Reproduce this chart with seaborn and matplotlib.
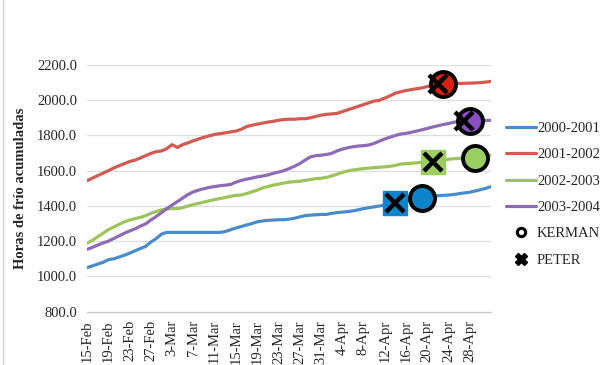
import matplotlib
matplotlib.use("Agg")
import matplotlib.pyplot as plt
from matplotlib.lines import Line2D
import numpy as np
import pandas as pd
import seaborn as sns

# Daily accumulated chill hours, 15-Feb (day 0) to 2-May (day 76)
s2000_2001 = [1050, 1060, 1070, 1080, 1095, 1100, 1110, 1120, 1132, 1145,
              1158, 1170, 1195, 1215, 1240, 1250, 1250, 1250, 1250, 1250,
              1250, 1250, 1250, 1250, 1250, 1250, 1255, 1265, 1275, 1283,
              1292, 1300, 1310, 1315, 1318, 1320, 1322, 1322, 1325, 1330,
              1338, 1345, 1348, 1350, 1352, 1352, 1358, 1362, 1365, 1368,
              1372, 1378, 1385, 1390, 1395, 1400, 1405, 1410, 1417, 1422,
              1428, 1432, 1438, 1444, 1450, 1455, 1458, 1460, 1462, 1465,
              1470, 1474, 1478, 1485, 1492, 1500, 1510]
s2001_2002 = [1543, 1558, 1572, 1586, 1600, 1615, 1628, 1640, 1652, 1660,
              1672, 1685, 1698, 1708, 1712, 1725, 1748, 1732, 1748, 1758,
              1770, 1780, 1790, 1798, 1806, 1810, 1815, 1820, 1825, 1835,
              1850, 1858, 1864, 1870, 1876, 1880, 1886, 1890, 1892, 1892,
              1895, 1895, 1900, 1908, 1915, 1920, 1922, 1925, 1935, 1945,
              1955, 1965, 1975, 1985, 1995, 2000, 2012, 2025, 2040, 2048,
              2055, 2060, 2065, 2070, 2078, 2082, 2086, 2090, 2092, 2094,
              2095, 2096, 2097, 2098, 2100, 2103, 2107]
s2002_2003 = [1188, 1205, 1225, 1245, 1265, 1280, 1295, 1310, 1320, 1328,
              1335, 1345, 1358, 1368, 1378, 1383, 1385, 1385, 1390, 1400,
              1408, 1415, 1422, 1430, 1436, 1442, 1448, 1455, 1460, 1462,
              1470, 1480, 1490, 1502, 1510, 1518, 1524, 1530, 1535, 1538,
              1540, 1545, 1550, 1555, 1557, 1562, 1570, 1580, 1590, 1598,
              1604, 1608, 1612, 1615, 1617, 1620, 1622, 1625, 1630, 1638,
              1640, 1642, 1645, 1648, 1650, 1652, 1655, 1660, 1665, 1668,
              1670, 1672, 1674, 1676, 1680, 1685, 1689]
s2003_2004 = [1154, 1165, 1178, 1190, 1200, 1215, 1230, 1245, 1258, 1270,
              1285, 1298, 1320, 1340, 1362, 1385, 1405, 1425, 1445, 1465,
              1480, 1490, 1498, 1505, 1510, 1515, 1518, 1522, 1535, 1545,
              1552, 1558, 1565, 1570, 1576, 1585, 1592, 1600, 1612, 1625,
              1640, 1660, 1678, 1685, 1688, 1692, 1698, 1712, 1722, 1730,
              1736, 1740, 1742, 1746, 1755, 1768, 1780, 1790, 1800, 1808,
              1812, 1818, 1825, 1832, 1840, 1848, 1855, 1862, 1868, 1875,
              1880, 1882, 1884, 1885, 1885, 1885, 1886]

seasons = ["2000-2001", "2001-2002", "2002-2003", "2003-2004"]
line_colors = ["#4a8ccb", "#d25a52", "#9dc35c", "#8d6bb5"]
fill_colors = ["#0b84c9", "#d8200f", "#9acd62", "#8a4fc0"]

# Cultivar requirement points: (day index, chill hours) for each season
kerman_day = [63, 67, 73, 72]
kerman_val = [1444, 2092, 1674, 1884]
peter_day = [58, 66, 65, 71]
peter_val = [1417, 2090, 1651, 1882]

tick_labels = ["15-Feb", "19-Feb", "23-Feb", "27-Feb", "3-Mar", "7-Mar",
               "11-Mar", "15-Mar", "19-Mar", "23-Mar", "27-Mar", "31-Mar",
               "4-Apr", "8-Apr", "12-Apr", "16-Apr", "20-Apr", "24-Apr",
               "28-Apr"]

series = [s2000_2001, s2001_2002, s2002_2003, s2003_2004]
df = pd.concat(
    [pd.DataFrame({"day": np.arange(len(v)), "horas": v, "season": name})
     for name, v in zip(seasons, series)],
    ignore_index=True,
)

sns.set_style("white")
plt.rcParams["font.family"] = ["Liberation Serif", "DejaVu Serif"]

fig = plt.figure(figsize=(6.15, 3.65), dpi=100)
ax = fig.add_axes([0.1415, 0.146, 0.657, 0.676])

sns.lineplot(data=df, x="day", y="horas", hue="season", hue_order=seasons,
             palette=line_colors, linewidth=2.3, legend=False, ax=ax,
             zorder=3)

# Square backgrounds for PETER where it does not sit under a KERMAN circle
for i in range(4):
    if i in (0, 2):
        ax.plot(peter_day[i], peter_val[i], marker="s", ms=17,
                mfc=fill_colors[i], mec=fill_colors[i], zorder=4)
    ax.plot(kerman_day[i], kerman_val[i], marker="o", ms=18,
            mfc=fill_colors[i], mec="black", mew=2.8, zorder=5)
    ax.plot(peter_day[i], peter_val[i], marker="x", ms=13,
            mec="black", mew=3.2, zorder=6)

ax.set_xlim(0, 76)
ax.set_ylim(800, 2200)
ax.set_yticks(np.arange(800, 2201, 200))
ax.set_yticklabels([f"{v:.1f}" for v in np.arange(800, 2201, 200)],
                   fontsize=10.5)
ax.set_xticks(np.arange(0, 77, 4))
ax.set_xticklabels(tick_labels + [""], rotation=90, fontsize=10.5)
ax.tick_params(axis="x", length=4, color="#c8c8c8", pad=2, width=0.8)
ax.tick_params(axis="y", length=0, pad=7)
ax.grid(axis="y", color="#dedede", linewidth=0.9)
ax.set_axisbelow(True)
for side in ("top", "right", "left"):
    ax.spines[side].set_visible(False)
ax.spines["bottom"].set_color("#c8c8c8")
ax.spines["bottom"].set_linewidth(0.9)
ax.set_xlabel("")
ax.set_ylabel("Horas de frío acumuladas", fontsize=10.5, fontweight="bold",
              labelpad=7)

handles = [Line2D([0], [0], color=c, lw=2.3) for c in line_colors]
handles.append(Line2D([0], [0], ls="none", marker="o", ms=6, mfc="white",
                      mec="black", mew=2.2))
handles.append(Line2D([0], [0], ls="none", marker="X", ms=8, color="black"))
fig.legend(handles, seasons + ["KERMAN", "PETER"], loc="upper left",
           bbox_to_anchor=(0.802, 0.702), frameon=False, fontsize=10.5,
           handlelength=2.0, handletextpad=0.1, labelspacing=0.9)

fig.add_artist(Line2D([0.005, 0.005], [0.0, 1.0], color="#d0d0d0",
                      lw=1.0, transform=fig.transFigure))

fig.savefig("out.png", dpi=100)
